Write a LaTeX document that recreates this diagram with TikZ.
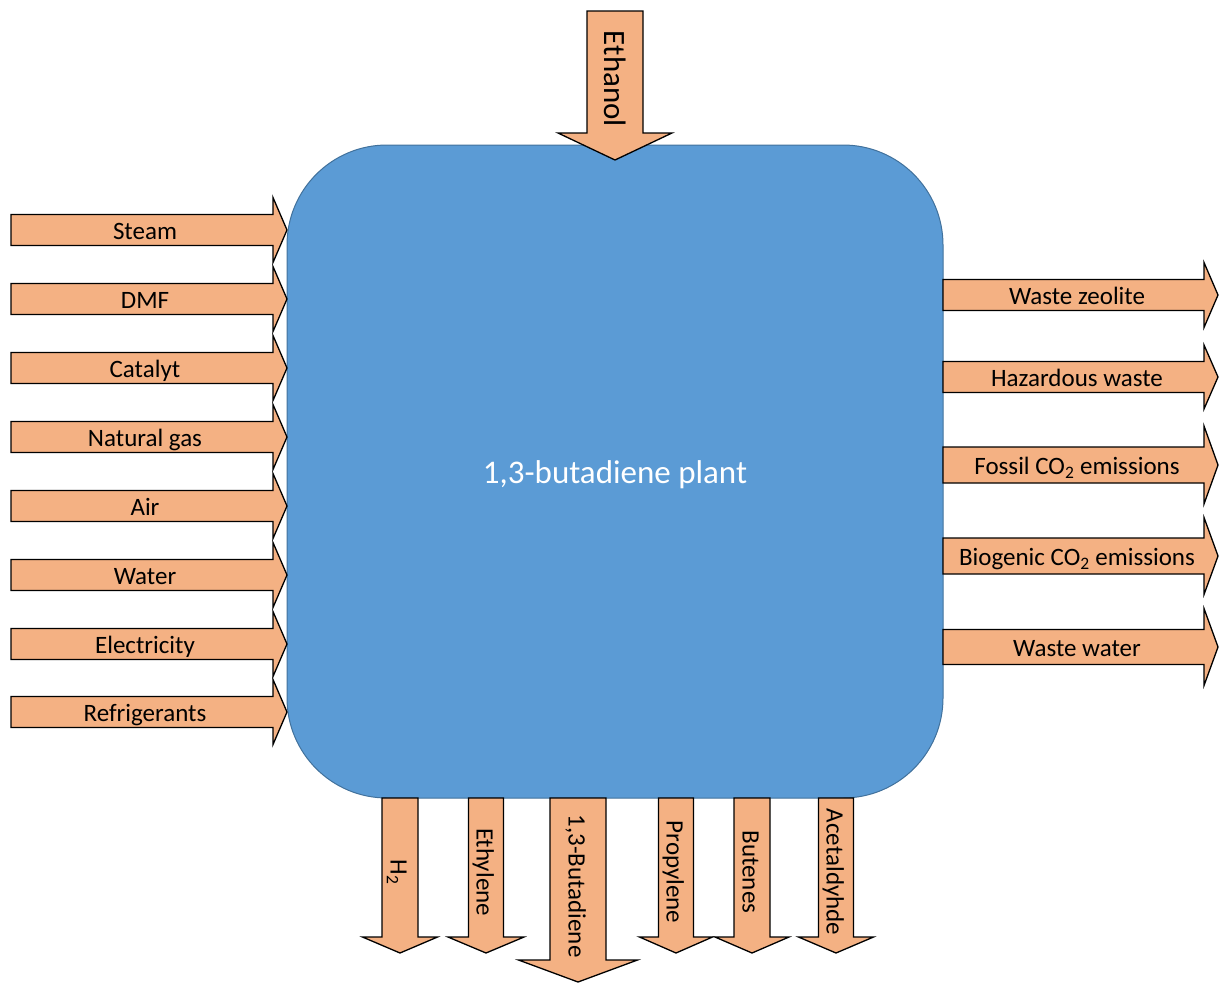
\documentclass[tikz,border=0pt]{standalone}
\usepackage{fontspec}
\setmainfont{Carlito}
\usepackage{xcolor}
\definecolor{plantblue}{HTML}{5B9BD5}
\definecolor{plantedge}{HTML}{41719C}
\definecolor{flowfill}{HTML}{F4B183}
\tikzset{
  flow/.style={fill=flowfill, draw=black, line width=1.3pt, line join=miter},
  flowlabel/.style={inner sep=0pt, text height=18.6pt, text depth=0pt, font=\fontsize{25}{30}\selectfont},
}

\begin{document}
\begin{tikzpicture}[x=1pt, y=-1pt]
        \useasboundingbox (0,0) rectangle (1220,983);

        \draw[plantedge, fill=plantblue, line width=1pt, rounded corners=100pt] (287,145) rectangle (943,798);
        \node[text=white, inner sep=0pt, anchor=base, font=\fontsize{33}{40}\selectfont] (plant) at (615,483) {1,3-butadiene plant};

        \foreach \y/\name/\lab in {230/steam/Steam, 299/dmf/DMF, 368/catalyt/Catalyt, 437/gas/Natural gas,
            506/air/Air, 575/water/Water, 644/electricity/Electricity, 712/refrigerants/Refrigerants} {
          \draw[flow] (11,\y-15.5) -- (273,\y-15.5) -- (273,\y-32.5) -- (287,\y)
            -- (273,\y+32.5) -- (273,\y+15.5) -- (11,\y+15.5) -- cycle;
          \node[flowlabel] (\name) at (145,\y) {\lab};
        }

        \foreach \y/\bw/\hw/\name/\lab in {295/15.5/32.5/zeolite/Waste zeolite, 377/15.5/32/hazardous/Hazardous waste,
            465/18/39/fossil/Fossil CO\textsubscript{2} emissions, 556/18/38.5/biogenic/Biogenic CO\textsubscript{2} emissions,
            647/17.5/38.5/wastewater/Waste water} {
          \draw[flow] (943,\y-\bw) -- (1204,\y-\bw) -- (1204,\y-\hw) -- (1218,\y)
            -- (1204,\y+\hw) -- (1204,\y+\bw) -- (943,\y+\bw) -- cycle;
          \node[flowlabel] (\name) at (1077,\y) {\lab};
        }

        \draw[flow] (587,11) -- (643,11) -- (643,133) -- (672,133) -- (615,160)
          -- (558,133) -- (587,133) -- cycle;
        \node[flowlabel, rotate=-90, text height=21pt, font=\fontsize{31}{37}\selectfont] (ethanol) at (615,79) {Ethanol};

        \foreach \x/\bw/\hw/\b/\t/\ly/\name/\lab in {400/18/37.5/937/953/872/hydrogen/H\textsubscript{2},
            486/17.5/38/937/953/872/ethylene/Ethylene, 578/28/59.5/960/982/886/butadiene/{1,3-Butadiene},
            676/17.5/36.5/937/953/872/propylene/Propylene, 752/18/37/937/953/872/butenes/Butenes,
            836/17.5/37.5/937/953/872/acetaldyhde/Acetaldyhde} {
          \draw[flow] (\x-\bw,798) -- (\x+\bw,798) -- (\x+\bw,\b) -- (\x+\hw,\b) -- (\x,\t)
            -- (\x-\hw,\b) -- (\x-\bw,\b) -- cycle;
          \node[flowlabel, rotate=-90] (\name) at (\x,\ly) {\lab};
        }
      \end{tikzpicture}
\end{document}
